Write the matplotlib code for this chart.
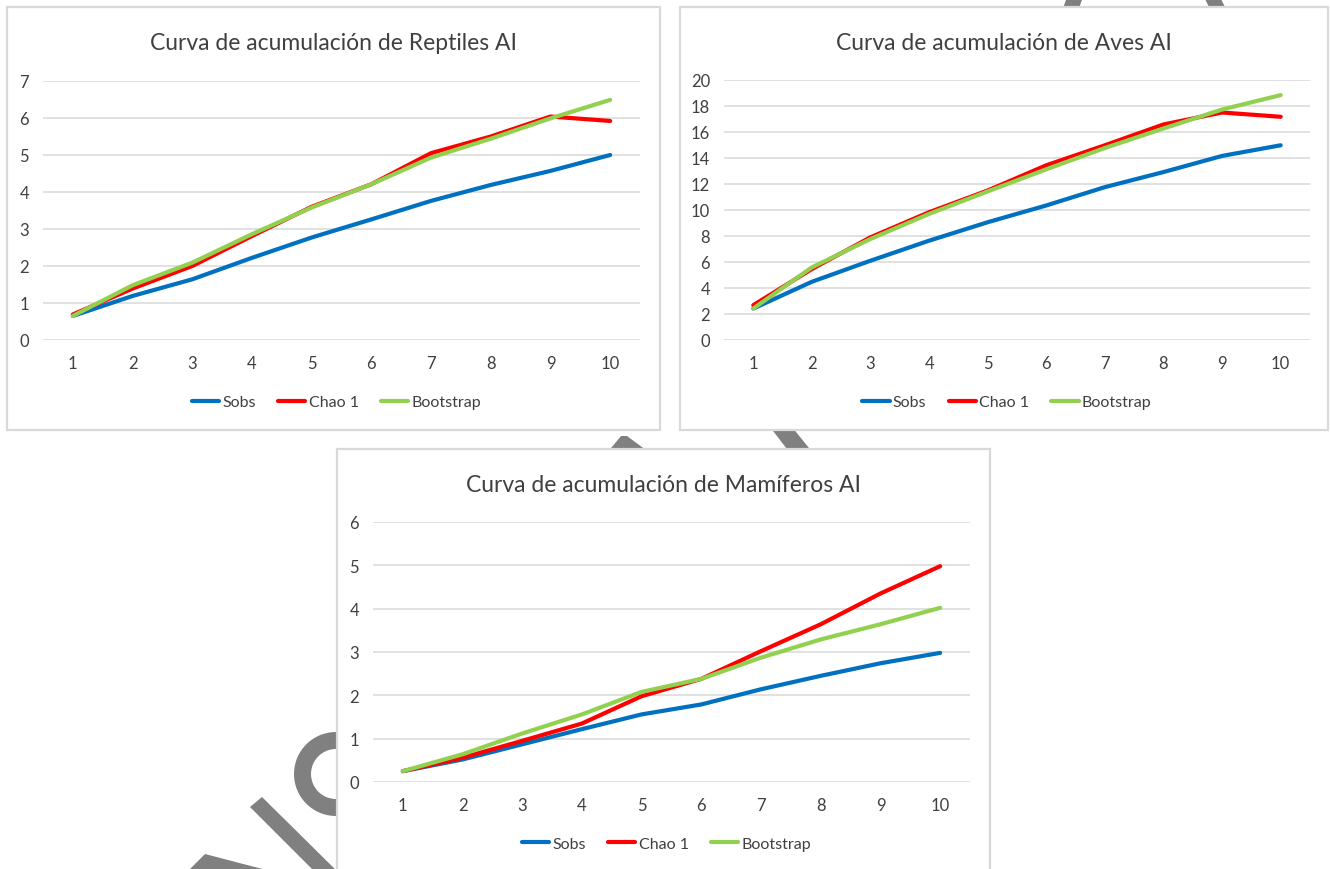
import matplotlib
matplotlib.use("Agg")
import matplotlib.pyplot as plt
from matplotlib.patches import Rectangle, Polygon, Wedge

W, H = 1330, 870
plt.rcParams['font.family'] = ['Lato', 'DejaVu Sans']

# ---- data -------------------------------------------------------------
muestras = list(range(1, 11))
series_names = ["Sobs", "Chao 1", "Bootstrap"]
series_colors = ["#0070C0", "#FF0000", "#92D050"]

reptiles_sobs = [0.65, 1.19, 1.64, 2.22, 2.77, 3.26, 3.76, 4.19, 4.57, 5.00]
reptiles_chao1 = [0.69, 1.39, 2.00, 2.81, 3.60, 4.21, 5.05, 5.50, 6.04, 5.92]
reptiles_boot = [0.65, 1.48, 2.09, 2.86, 3.58, 4.21, 4.93, 5.44, 5.99, 6.49]

aves_sobs = [2.42, 4.48, 6.10, 7.64, 9.06, 10.35, 11.76, 12.92, 14.16, 14.98]
aves_chao1 = [2.68, 5.46, 7.90, 9.83, 11.50, 13.44, 14.98, 16.58, 17.50, 17.17]
aves_boot = [2.42, 5.59, 7.77, 9.70, 11.43, 13.13, 14.77, 16.27, 17.73, 18.84]

mamiferos_sobs = [0.25, 0.52, 0.87, 1.22, 1.56, 1.79, 2.14, 2.45, 2.74, 2.98]
mamiferos_chao1 = [0.25, 0.56, 0.95, 1.35, 1.98, 2.38, 3.02, 3.64, 4.35, 4.98]
mamiferos_boot = [0.25, 0.64, 1.12, 1.56, 2.08, 2.38, 2.87, 3.29, 3.64, 4.02]

titles = ["Curva de acumulación de Reptiles AI",
          "Curva de acumulación de Aves AI",
          "Curva de acumulación de Mamíferos AI"]
y_ticks = [list(range(0, 8)), list(range(0, 21, 2)), list(range(0, 7))]

# ---- layout (pixels) ---------------------------------------------------
charts = [
    dict(title=titles[0], data=[reptiles_sobs, reptiles_chao1, reptiles_boot],
         yticks=y_ticks[0], panel=(7, 8, 660, 431), plot=(43, 82, 640, 341)),
    dict(title=titles[1], data=[aves_sobs, aves_chao1, aves_boot],
         yticks=y_ticks[1], panel=(680, 8, 1328, 431), plot=(724, 81, 1310, 341)),
    dict(title=titles[2], data=[mamiferos_sobs, mamiferos_chao1, mamiferos_boot],
         yticks=y_ticks[2], panel=(337, 450, 990, 880), plot=(373, 523, 970, 783)),
]

TEXT = "#404040"
GRID = "#D9D9D9"

fig = plt.figure(figsize=(W / 100, H / 100), dpi=100)
fig.patch.set_facecolor("white")

# background layer in pixel coordinates
bg = fig.add_axes([0, 0, 1, 1], zorder=-5)
bg.set_xlim(0, W)
bg.set_ylim(H, 0)
bg.axis("off")

# grey watermark strokes lying behind the chart panels
WM = "#808080"
wm_shapes = [
    [(1067, -2), (1083, -2), (1078, 12), (1062, 12)],
    [(1204, -2), (1220, -2), (1227, 12), (1211, 12)],
    [(770, 428), (792, 428), (813, 454), (790, 454)],
    [(607, 454), (621, 437), (627, 437), (650, 454)],
    [(250, 808), (262, 798), (345, 880), (332, 890)],
    [(190, 870), (205, 855), (270, 872), (265, 880)],
]
for pts in wm_shapes:
    bg.add_patch(Polygon(pts, closed=True, facecolor=WM, edgecolor="none"))
bg.add_patch(Wedge((336, 775), 42, 0, 360, width=17, facecolor=WM, edgecolor="none"))

# white chart panels with a light grey border
for c in charts:
    l, t, r, b = c["panel"]
    bg.add_patch(Rectangle((l, t), r - l, b - t, facecolor="white",
                           edgecolor=GRID, linewidth=1.6))

for c in charts:
    l, t, r, b = c["plot"]
    ax = fig.add_axes([l / W, 1 - b / H, (r - l) / W, (b - t) / H])
    ax.set_facecolor("none")
    for name, color, vals in zip(series_names, series_colors, c["data"]):
        ax.plot(muestras, vals, color=color, lw=3.0, label=name,
                solid_capstyle="round", solid_joinstyle="round", zorder=3)
    yt = c["yticks"]
    ax.set_xlim(0.5, 10.5)
    ax.set_ylim(yt[0], yt[-1])
    ax.set_yticks(yt)
    ax.set_xticks(muestras)
    ax.grid(axis="y", color=GRID, lw=1.1, zorder=0)
    ax.set_axisbelow(True)
    for s in ax.spines.values():
        s.set_visible(False)
    ax.tick_params(axis="both", length=0, labelsize=12, colors=TEXT)
    ax.tick_params(axis="y", pad=10)
    ax.tick_params(axis="x", pad=11)
    for lab in ax.get_yticklabels() + ax.get_xticklabels():
        lab.set_clip_on(False)

    pl, pt, pr, pb = c["panel"]
    cx = (pl + pr) / 2
    fig.text(cx / W, 1 - (pt + 36) / H, c["title"], ha="center", va="center",
             fontsize=16.5, color=TEXT)
    ax.legend(loc="center", bbox_to_anchor=((cx + 3) / W, 1 - (pt + 395) / H),
              bbox_transform=fig.transFigure, ncol=3, frameon=False,
              fontsize=11.5, handlelength=1.7, handletextpad=0.2,
              columnspacing=1.4, labelcolor=TEXT)

fig.savefig("out.png", dpi=100, facecolor="white")
